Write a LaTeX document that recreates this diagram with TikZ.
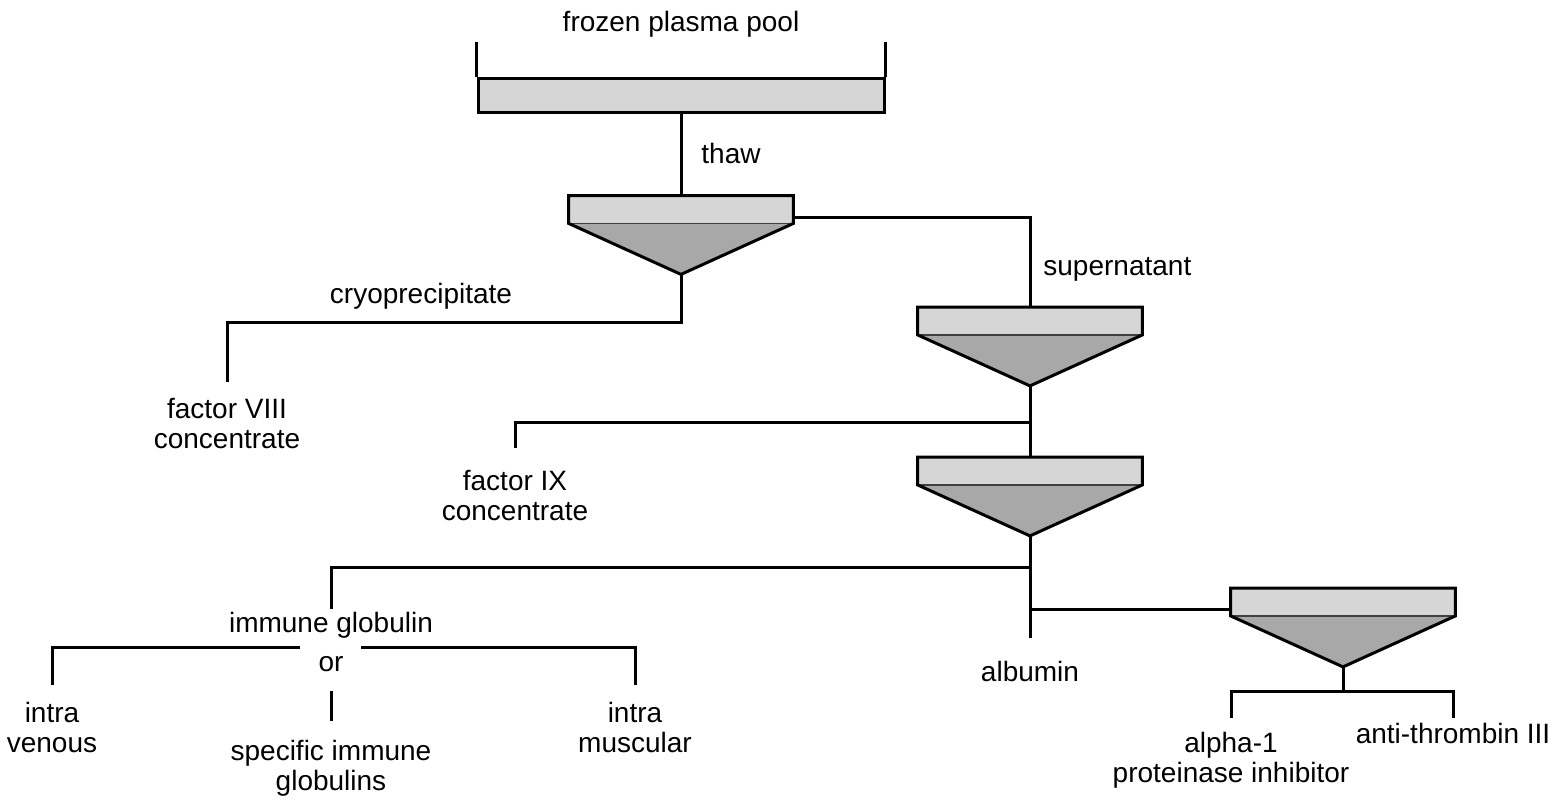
\documentclass[tikz,border=0pt]{standalone}
\usepackage{fontspec}
\setmainfont{Liberation Sans}
\usepackage{tikz}
\usetikzlibrary{calc,positioning}
\usepackage{xcolor}
\definecolor{tubegrey}{RGB}{214,214,214}
\definecolor{pelletgrey}{RGB}{168,168,168}

\begin{document}
\begin{tikzpicture}[
    x=0.5pt, y=-0.5pt,
    font=\fontsize{14}{15}\selectfont,
    every node/.style={inner sep=0pt, align=center},
    tube/.style={fill=tubegrey, minimum width=112pt, minimum height=13.5pt},
    wire/.style={line width=1.5pt},
    split/.style={line width=0.7pt, draw=black!75}
]
    \useasboundingbox (0,0) rectangle (1556,803);

    \node (pool) [tube, draw, line width=1.5pt, minimum width=203pt, minimum height=17pt] at (681,95) {};
    \node (spin1) [tube] at (681,209.5) {};
    \node (spin2) [tube] at (1030,321) {};
    \node (spin3) [tube] at (1030,471) {};
    \node (spin4) [tube] at (1343,602) {};

    \foreach \s in {spin1,spin2,spin3,spin4} {
        \coordinate (\s-tip) at ($(\s.south)+(0,51)$);
        \fill[pelletgrey] (\s.south west) -- (\s-tip) -- (\s.south east) -- cycle;
        \draw[split] (\s.south west) -- (\s.south east);
        \draw[wire] (\s.south east) -- (\s.north east) -- (\s.north west) -- (\s.south west) -- (\s-tip) -- cycle;
    }

    \node (pooltext) [anchor=base] at (681,32) {frozen plasma pool};
    \node (thaw) [anchor=base west] at (701,163) {thaw};
    \node (super) [anchor=base west] at (1043,275) {supernatant};
    \node (cryo) [anchor=base] at (421,303) {cryoprecipitate};
    \node (f8) [anchor=base] at (227,448) {factor VIII\\concentrate};
    \node (f9) [anchor=base] at (515,520) {factor IX\\concentrate};
    \node (ig) [anchor=base] at (331,632) {immune globulin};
    \node (or) [anchor=base] at (331,671) {or};
    \node (iv) [anchor=base] at (52,752) {intra\\venous};
    \node (im) [anchor=base] at (635,752) {intra\\muscular};
    \node (sig) [anchor=base] at (331,790) {specific immune\\globulins};
    \node (alb) [anchor=base] at (1030,681) {albumin};
    \node (a1) [anchor=base] at (1231,782) {alpha-1\\proteinase inhibitor};
    \node (at3) [anchor=base] at (1453,743) {anti-thrombin III};

    \coordinate (j9) at (1030,422);
    \coordinate (jig) at (1030,567);
    \coordinate (j4) at (1030,609);
    \coordinate (jout) at (1343,691);
    \coordinate (orleft) at ($(or.north west)+(-18,-8)$);
    \coordinate (orright) at ($(or.north east)+(17,-8)$);

    \draw[wire] (pool.north west) -- ++(0,-35);
    \draw[wire] (pool.north east) -- ++(0,-35);
    \draw[wire] (pool.south) -- (spin1.north);
    \draw[wire] ($(spin1.south east)+(0,-6)$) -| (spin2.north);
    \draw[wire, shorten >=7.8pt] (spin1-tip) -- ++(0,48) -| (f8.north);
    \draw[wire] (spin2-tip) -- (spin3.north);
    \draw[wire, shorten >=10.5pt] (j9) -| (f9.north);
    \draw[wire, shorten >=11pt] (spin3-tip) -- (alb.north);
    \draw[wire, shorten >=1pt] (jig) -| (ig.north);
    \draw[wire] (j4) -- (j4 -| spin4.west);
    \draw[wire] (spin4-tip) -- (jout);
    \draw[wire, shorten <=6.5pt] (a1.north) |- (jout);
    \draw[wire, shorten <=2pt] (at3.north) |- (jout);
    \draw[wire, shorten <=8pt] (iv.north) |- (orleft);
    \draw[wire, shorten <=8pt] (im.north) |- (orright);
    \draw[wire, shorten <=9.5pt, shorten >=9.3pt] (or.south) -- (sig.north);
\end{tikzpicture}
\end{document}
